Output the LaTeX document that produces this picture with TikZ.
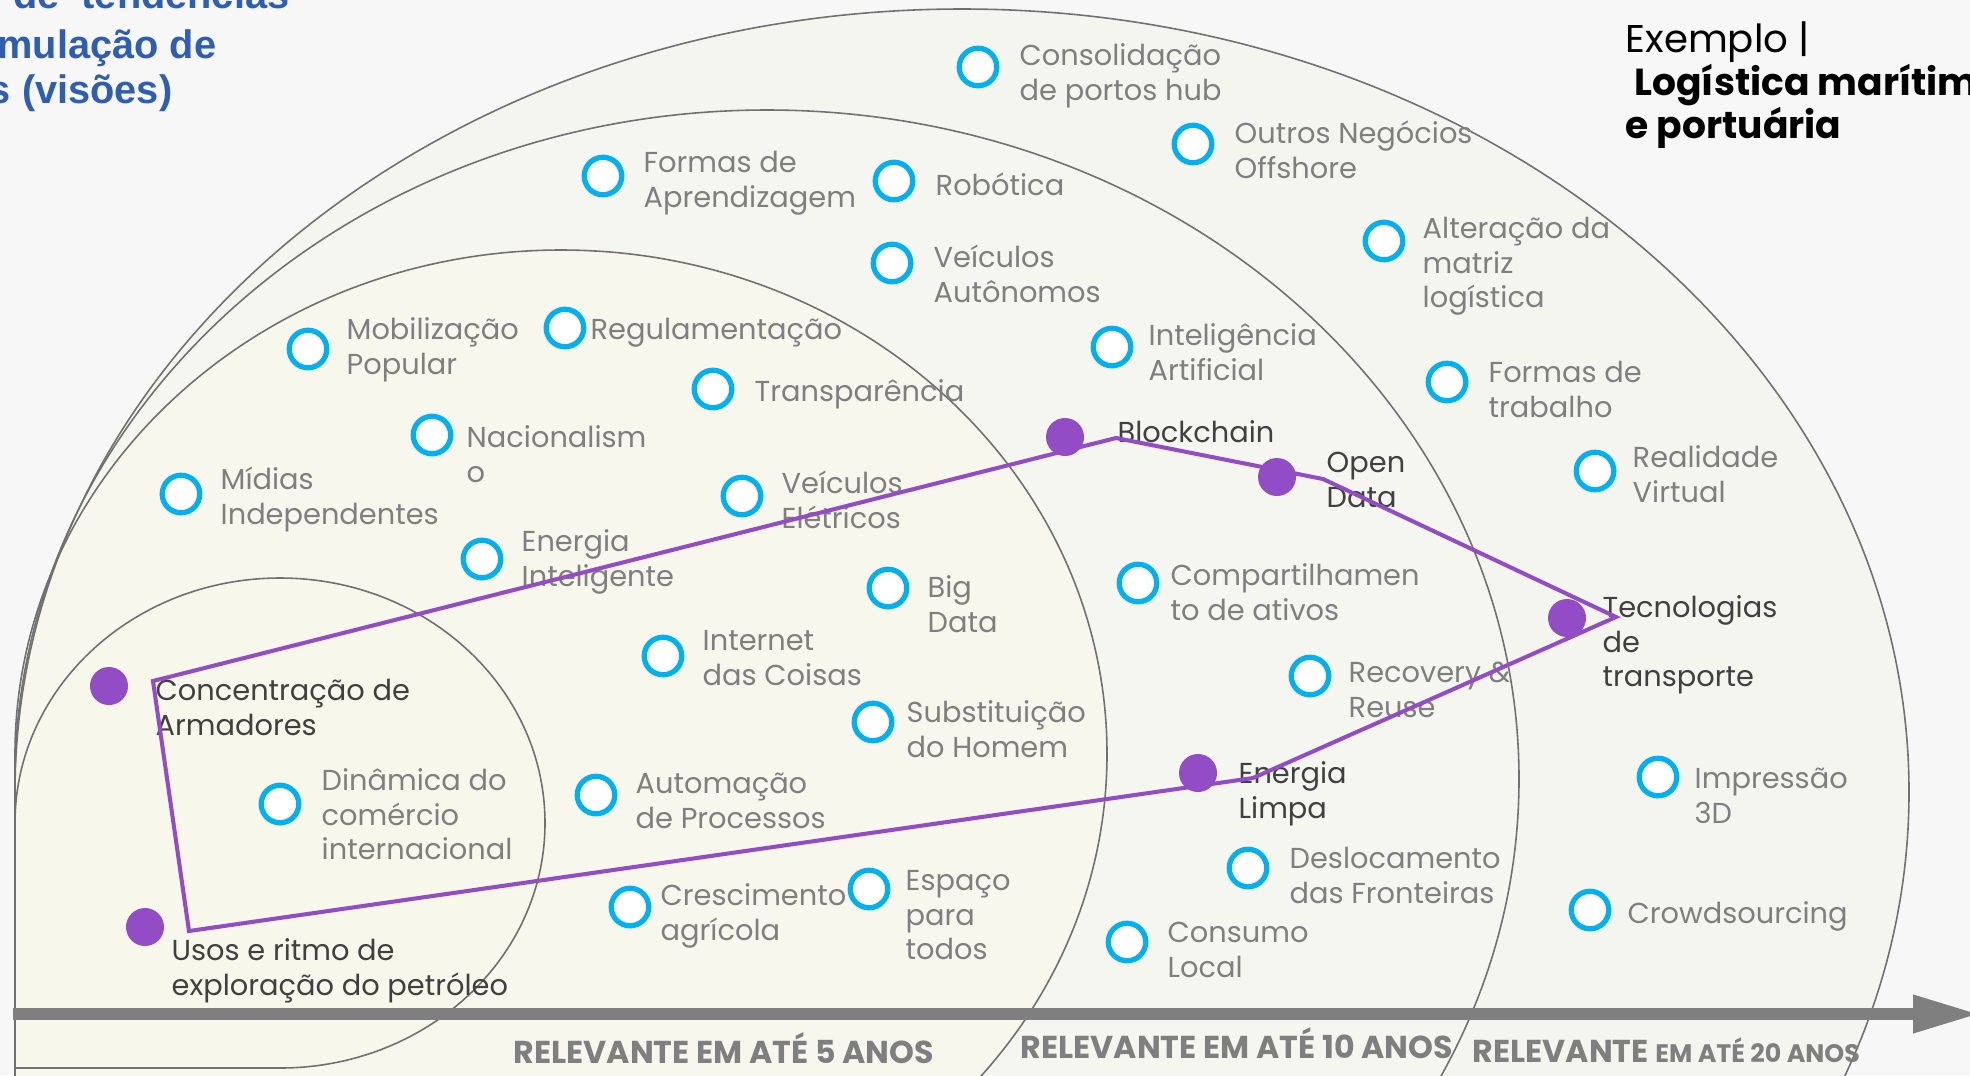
\documentclass[tikz,border=0pt]{standalone}
\usepackage{fontspec}
\setmainfont{Poppins}
\newfontfamily\titulofont{Liberation Sans}
\usetikzlibrary{arrows.meta}
\definecolor{fundo}{RGB}{247,247,247}
\definecolor{zonaA}{RGB}{245,245,240}
\definecolor{zonaB}{RGB}{246,246,240}
\definecolor{zonaC}{RGB}{247,247,238}
\definecolor{zonaD}{RGB}{247,247,236}
\definecolor{linha}{RGB}{112,112,112}
\definecolor{eixo}{RGB}{127,127,127}
\definecolor{azul}{RGB}{0,176,240}
\definecolor{roxo}{RGB}{146,77,198}
\definecolor{cinza}{RGB}{127,127,127}
\definecolor{escuro}{RGB}{64,64,64}
\definecolor{titulo}{RGB}{47,93,177}
\tikzset{
  anel/.style={circle, draw=azul, line width=1.5pt, fill=white, minimum size=0.375cm, inner sep=0pt},
  ponto/.style={circle, fill=roxo, minimum size=0.38cm, inner sep=0pt},
  rotulo/.style={anchor=north west, yshift=9pt, inner sep=0pt, align=left, text=cinza, font=\fontsize{8.2}{9.8}\selectfont},
  destaque/.style={rotulo, text=escuro},
  contorno/.style={draw=linha, line width=0.45pt},
  eixoseta/.style={draw=eixo, line width=3.4pt, -{Triangle[length=19pt, width=10pt]}},
  poligono/.style={draw=roxo, line width=1.15pt, line join=miter},
  faixa/.style={anchor=base west, inner sep=0pt, text=eixo, font=\bfseries\fontsize{9}{10}\selectfont},
  chamada/.style={anchor=base east, inner sep=0pt, text=titulo, font=\titulofont\bfseries\fontsize{11.3}{13}\selectfont},
}
% anel azul + texto (primeira linha na base dada)
\newcommand{\tendencia}[4]{\node[anel] (#1) at (#2) {}; \node[rotulo] (#1-t) at (#3) {\rule{0pt}{9pt}#4};}
% ponto roxo + texto
\newcommand{\marco}[4]{\node[ponto] (#1) at (#2) {}; \node[destaque] (#1-t) at (#3) {\rule{0pt}{9pt}#4};}

\begin{document}
\begin{tikzpicture}[x=0.01cm, y=-0.01cm]
\useasboundingbox (0,0) rectangle (1970,1075);
\clip (0,0) rectangle (1970,1075);
\fill[fundo] (0,0) rectangle (1970,1075);
% zonas: 20, 10, 5 anos e nucleo
\foreach \cy/\rx/\ry/\cor in {792/947/783/zonaA, 779/752/669/zonaB, 754/546/504/zonaC, 823/265/245/zonaD}{
  \path[fill=\cor] (15,\cy+\ry) -- (15,\cy) arc[start angle=180, end angle=450, x radius=\rx, y radius=\ry] -- cycle;
}
\foreach \cy/\rx/\ry in {792/947/783, 779/752/669, 754/546/504, 823/265/245}{
  \path[contorno] (15,\cy+\ry) -- (15,\cy) arc[start angle=180, end angle=450, x radius=\rx, y radius=\ry] -- cycle;
}
% eixo do tempo
\coordinate (origem) at (13,1014);
\coordinate (fim) at (1980,1014);
\draw[eixoseta] (origem) -- (fim);
\node[faixa] (f5) at (513,1063) {RELEVANTE EM ATÉ 5 ANOS};
\node[faixa] (f10) at (1020,1058) {RELEVANTE EM ATÉ 10 ANOS};
\node[faixa] (f20) at (1472,1062) {RELEVANTE {\fontsize{7.2}{8}\selectfont EM ATÉ 20 ANOS}};
% titulos
\node[chamada] (tit1) at (290,8) {de\ \ tendências};
\node[chamada] (tit2) at (217,58) {mulação de};
\node[chamada] (tit3) at (173,103) {s (visões)};
\node[anchor=north west, yshift=12pt, inner sep=0pt, align=left, font=\fontsize{11}{12.2}\selectfont] (exemplo) at (1625,52) {\rule{0pt}{12pt}Exemplo |\\\hspace{2.5pt}{\fontsize{10.7}{12.2}\selectfont\bfseries Logística marítima}\\{\fontsize{10.7}{12.2}\selectfont\bfseries e portuária}};
% tendencias
\tendencia{consol}{978,67}{1019,65}{Consolidação\\de portos hub}
\tendencia{outros}{1193,144}{1234,143}{Outros Negócios\\Offshore}
\tendencia{alter}{1384,241}{1422,238}{Alteração da\\matriz\\logística}
\tendencia{formtrab}{1447,382}{1488,382}{Formas de\\trabalho}
\tendencia{realid}{1595,471}{1632,467}{Realidade\\Virtual}
\tendencia{impr}{1658,777}{1694,788}{Impressão\\3D}
\tendencia{crowd}{1590,910}{1627,923}{Crowdsourcing}
\tendencia{formapr}{603,176}{643,172}{Formas de\\Aprendizagem}
\tendencia{robot}{894,181}{935,195}{Robótica}
\tendencia{veicaut}{892,263}{933,267}{Veículos\\Autônomos}
\tendencia{intart}{1112,347}{1148,345}{Inteligência\\Artificial}
\tendencia{compart}{1138,583}{1170,585}{Compartilhamen\\to de ativos}
\tendencia{recov}{1310,676}{1348,682}{Recovery \&\\Reuse}
\tendencia{desloc}{1248,868}{1289,868}{Deslocamento\\das Fronteiras}
\tendencia{consumo}{1127,942}{1167,942}{Consumo\\Local}
\tendencia{mobil}{308,349}{346,339}{Mobilização\\Popular}
\tendencia{regul}{565,328}{590,339}{Regulamentação}
\tendencia{transp}{713,389}{754,401}{Transparência}
\tendencia{nacion}{432,435}{466,447}{Nacionalism\\o}
\tendencia{midias}{181,494}{220,489}{Mídias\\Independentes}
\tendencia{energint}{482,559}{521,551}{Energia\\Inteligente}
\tendencia{veicelet}{742,496}{781,493}{Veículos\\Elétricos}
\tendencia{bigdata}{888,588}{927,597}{Big\\Data}
\tendencia{internet}{663,656}{702,650}{Internet\\das Coisas}
\tendencia{subst}{873,722}{906,722}{Substituição\\do Homem}
\tendencia{autom}{596,795}{635,793}{Automação\\de Processos}
\tendencia{cresc}{630,907}{660,905}{Crescimento\\agrícola}
\tendencia{espaco}{869,889}{905,890}{Espaço\\para\\todos}
\tendencia{dinam}{280,804}{321,790}{Dinâmica do\\comércio\\internacional}
% incertezas criticas
\marco{concent}{109,686}{155,700}{Concentração de\\Armadores}
\marco{usos}{145,927}{171,960}{Usos e ritmo de\\exploração do petróleo}
\marco{blockchain}{1065,437}{1117,442}{Blockchain}
\marco{opendata}{1277,477}{1326,472}{Open\\Data}
\marco{tecnol}{1567,618}{1602,617}{Tecnologias\\de\\transporte}
\marco{energlimp}{1198,773}{1238,783}{Energia\\Limpa}
% cenario
\coordinate (v1) at (153,681);
\coordinate (v2) at (1116,438);
\coordinate (v3) at (1323,479);
\coordinate (v4) at (1616,617);
\coordinate (v5) at (1253,778);
\coordinate (v6) at (189,931);
\draw[poligono] (v1) -- (v2) -- (v3) -- (v4) -- (v5) -- (v6) -- cycle;
\end{tikzpicture}
\end{document}
